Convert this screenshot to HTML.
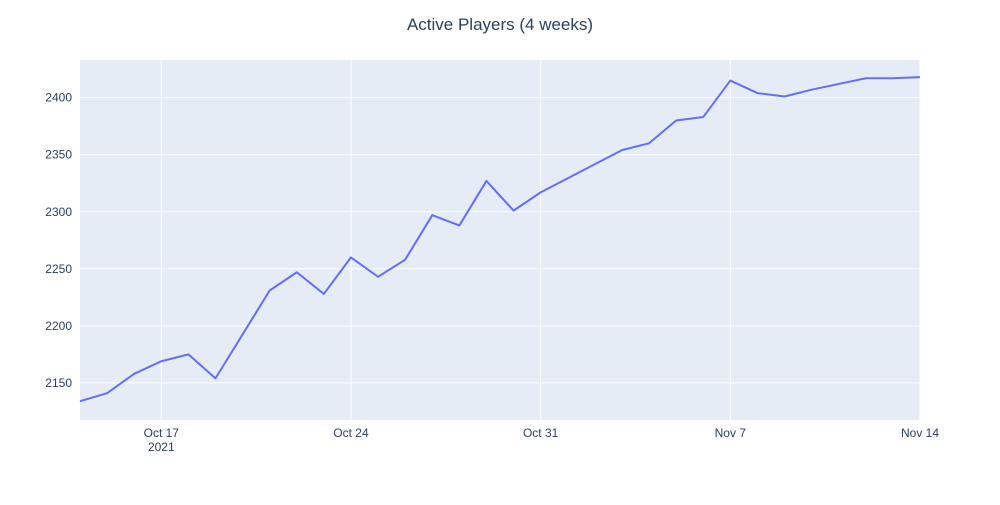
<!DOCTYPE html>
<html><head><meta charset="utf-8"><style>
body{margin:0;background:#fff;font-family:"Liberation Sans",sans-serif}
svg text{font-family:"Liberation Sans",sans-serif;fill:#2a3f5f}
</style></head><body>
<svg id="c" width="1000" height="500">
<rect width="1000" height="500" fill="#fff"/>
<text x="500" y="30" text-anchor="middle" font-size="17">Active Players (4 weeks)</text>
<rect x="80" y="60" width="840" height="360" fill="#e5ecf6"/>
<g id="grid"></g><g id="ticks"></g><g id="series"></g>
</svg>
<script>
const dates=["2021-10-14","2021-10-15","2021-10-16","2021-10-17","2021-10-18","2021-10-19","2021-10-21","2021-10-22","2021-10-23","2021-10-24","2021-10-25","2021-10-26","2021-10-27","2021-10-28","2021-10-29","2021-10-30","2021-10-31","2021-11-03","2021-11-04","2021-11-05","2021-11-06","2021-11-07","2021-11-08","2021-11-09","2021-11-10","2021-11-12","2021-11-13","2021-11-14"];
const players=[2134,2141,2158,2169,2175,2154,2231,2247,2228,2260,2243,2258,2297,2288,2327,2301,2317,2354,2360,2380,2383,2415,2404,2401,2407,2417,2417,2418];
const yTicks=[2150,2200,2250,2300,2350,2400];
const xTickDates=["2021-10-17","2021-10-24","2021-10-31","2021-11-07","2021-11-14"];
const xTickLabels=["Oct 17","Oct 24","Oct 31","Nov 7","Nov 14"];
const NS="http://www.w3.org/2000/svg";
const t0=Date.parse("2021-10-14"),t1=Date.parse("2021-11-14");
const x=d=>80+(Date.parse(d)-t0)/(t1-t0)*840;
const y0=2117.5,y1=2433;
const y=v=>420-(v-y0)/(y1-y0)*360;
function mk(tag,attrs,parent){const e=document.createElementNS(NS,tag);for(const k in attrs)e.setAttribute(k,attrs[k]);parent.appendChild(e);return e;}
const grid=document.getElementById('grid'),ticks=document.getElementById('ticks'),series=document.getElementById('series');
yTicks.forEach(v=>{
 const l=mk('line',{x1:80,x2:920,y1:y(v),y2:y(v),stroke:'#fff','stroke-width':1},grid);
 
 
 const t=mk('text',{x:72,y:y(v)+4,'text-anchor':'end','font-size':12},ticks);
 t.textContent=v;
 
 
});
xTickDates.forEach((d,i)=>{
 const l=mk('line',{x1:x(d),x2:x(d),y1:60,y2:420,stroke:'#fff','stroke-width':1},grid);
 
 
 const t=mk('text',{x:x(d),y:437,'text-anchor':'middle','font-size':12},ticks);
 t.textContent=xTickLabels[i];
 
 
});
const yr=mk('text',{x:x(xTickDates[0]),y:451,'text-anchor':'middle','font-size':12},ticks);
yr.textContent='2021';


const p=mk('polyline',{points:dates.map((d,i)=>x(d)+','+y(players[i])).join(' '),fill:'none',stroke:'#636efa','stroke-width':2,'stroke-linejoin':'round'},series);


</script>
</body></html>
